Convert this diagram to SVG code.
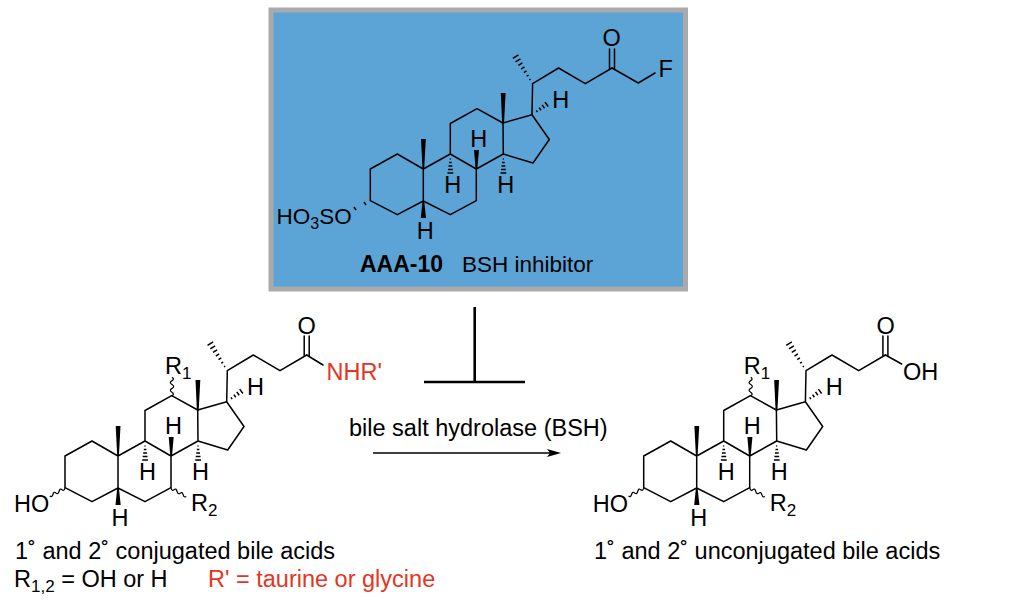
<svg xmlns="http://www.w3.org/2000/svg" xmlns:xlink="http://www.w3.org/1999/xlink" width="1024" height="607" viewBox="0 0 1024 607">
<style>
text{font-family:"Liberation Sans",Arial,sans-serif;font-size:23.5px;fill:#000}
.sm{font-size:23.5px}
.in{font-size:22.5px}
.sub{font-size:17px}
.red{fill:#e5351f}
.b{font-weight:bold;font-size:23px}
.bond{fill:none;stroke:#000;stroke-width:1.5;stroke-linejoin:round;stroke-linecap:round}
.hash{fill:none;stroke:#000;stroke-width:1.5}
.wavy{fill:none;stroke:#000;stroke-width:1.2}
.t{fill:none;stroke:#000;stroke-width:2.6}
</style>
<defs>
<g id="core">
<path class="bond" d="M65 487.700V456L92 441L118 456V488L92 501.700L65 487.700M118 488L145 501.700L171 487.700V456L145 441L118 456M145 441V410.500L171.700 395.700L197.700 410L198 441L171 456M198 441L227.700 450L244 426.500L226.700 401.700L197.700 410M226.700 401.700L227.300 370.700L253.300 355L280 370.700L306.700 355"/>
<polygon points="196.900,411 195.500,380 200.300,380 198.700,411"/>
<polygon points="117.200,456 115.700,426 120.500,426 118.900,456"/>
<polygon points="170.300,456 168.700,437 173.700,437 172,456"/>
<polygon points="117.200,488 115.500,505 120.700,505 118.900,488"/>
<path class="hash" d="M144.500 446h1M143.800 449.500h2.600M143.200 453h3.800M142.700 456.500h4.800M142.200 460h5.800M197.500 446h1M196.800 449.500h2.600M196.200 453h3.800M195.700 456.500h4.800M195.200 460h5.800"/>
<path class="hash" d="M224.060 366.830L225.240 366.090M221.340 363.220L223.200 362.060M218.520 359.680L221.240 357.980M215.800 356.070L219.200 353.950M213.060 352.470L217.140 349.930M210.240 348.940L215.160 345.860M207.540 345.350L213.140 341.850"/>
<path class="hash" d="M231 397.400L232.200 399M233.900 394.600L235.700 397.200M236.800 391.900L239.200 395.300M239.700 389.100L242.900 393.500"/>
<text x="165" y="434">H</text>
<text x="139" y="480">H</text>
<text x="192" y="480">H</text>
<text x="111.500" y="526">H</text>
<text x="247" y="395">H</text>
</g>
<path id="co" class="bond" d="M304.200 336V355.500M309.200 336V356.500"/>
<g id="oh-r">
<path class="wavy" d="M65 487.700q-.5 3.800-3 2.100q-2-2.200-3 1.700q-.8 3.300-3.100 1.500q-2-2-3 1.500q-.9 3.100-3.100 1.500"/>
<path class="wavy" d="M171 487.700q.6 3.800 3.100 2.100q2-2.200 3 1.700q.8 3.300 3.100 1.700q2-2 3 1.700q.8 3 3.100 1.700"/>
<path class="wavy" d="M171.700 395.700q3.300-1 .3-3.400q-3.300-2.100 0-3.900q3.300-1.800 0-3.900q-3.300-2.100 0-3.900q2.800-1.600 0-3.400"/>
<text x="14" y="511.500">HO</text>
<text x="191" y="511">R<tspan class="sub" dy="5">2</tspan></text>
<text x="165" y="373.500">R<tspan class="sub" dy="5">1</tspan></text>
</g>
</defs>
<g id="inhibitor">
<rect x="271" y="10" width="414.500" height="279" fill="#5ca4d6" stroke="#aaaaaa" stroke-width="5"/>
<use xlink:href="#core" href="#core" transform="translate(305.300,-287)"/>
<use xlink:href="#co" href="#co" transform="translate(305.300,-287)"/>
<path class="bond" d="M612 68L638.300 83L655 73"/>
<path class="hash" d="M364 202L366 205M354 207L356 210"/>
<text x="602.500" y="46">O</text>
<text x="658.500" y="76.500">F</text>
<text x="276.500" y="223.500" style="font-size:22.500px">HO<tspan class="sub" dy="5" style="font-size:16px">3</tspan><tspan dy="-5">SO</tspan></text>
<text class="b" x="360" y="272">AAA-10</text>
<text x="462" y="272" class="in">BSH inhibitor</text>
</g>
<g id="conjugated">
<use xlink:href="#core" href="#core"/>
<use xlink:href="#oh-r" href="#oh-r"/>
<use xlink:href="#co" href="#co"/>
<path class="bond" d="M306.700 355L323 365"/>
<text x="297.500" y="334">O</text>
<text x="326.500" y="379.500" class="red">NHR'</text>
<text x="15" y="559" class="sm">1˚ and 2˚ conjugated bile acids</text>
<text x="14" y="587" class="sm">R<tspan class="sub" dy="5">1,2</tspan><tspan dy="-5"> = OH or H</tspan></text>
<text x="208" y="587" class="sm red">R' = taurine or glycine</text>
</g>
<g id="unconjugated">
<use xlink:href="#core" href="#core" transform="translate(578.700,0)"/>
<use xlink:href="#oh-r" href="#oh-r" transform="translate(578.700,0)"/>
<use xlink:href="#co" href="#co" transform="translate(578.700,0)"/>
<path class="bond" d="M885.400 355L901.700 364"/>
<text x="876.500" y="334">O</text>
<text x="903" y="379.500">OH</text>
<text x="594" y="559" class="sm">1˚ and 2˚ unconjugated bile acids</text>
</g>
<g id="connectors">
<path class="t" d="M474.700 307V382M424 382H525"/>
<path d="M373 453H552" fill="none" stroke="#000" stroke-width="1.300"/>
<polygon points="561,453 547,449 550,453 547,457"/>
<text x="349" y="436" class="sm">bile salt hydrolase (BSH)</text>
</g>
</svg>
